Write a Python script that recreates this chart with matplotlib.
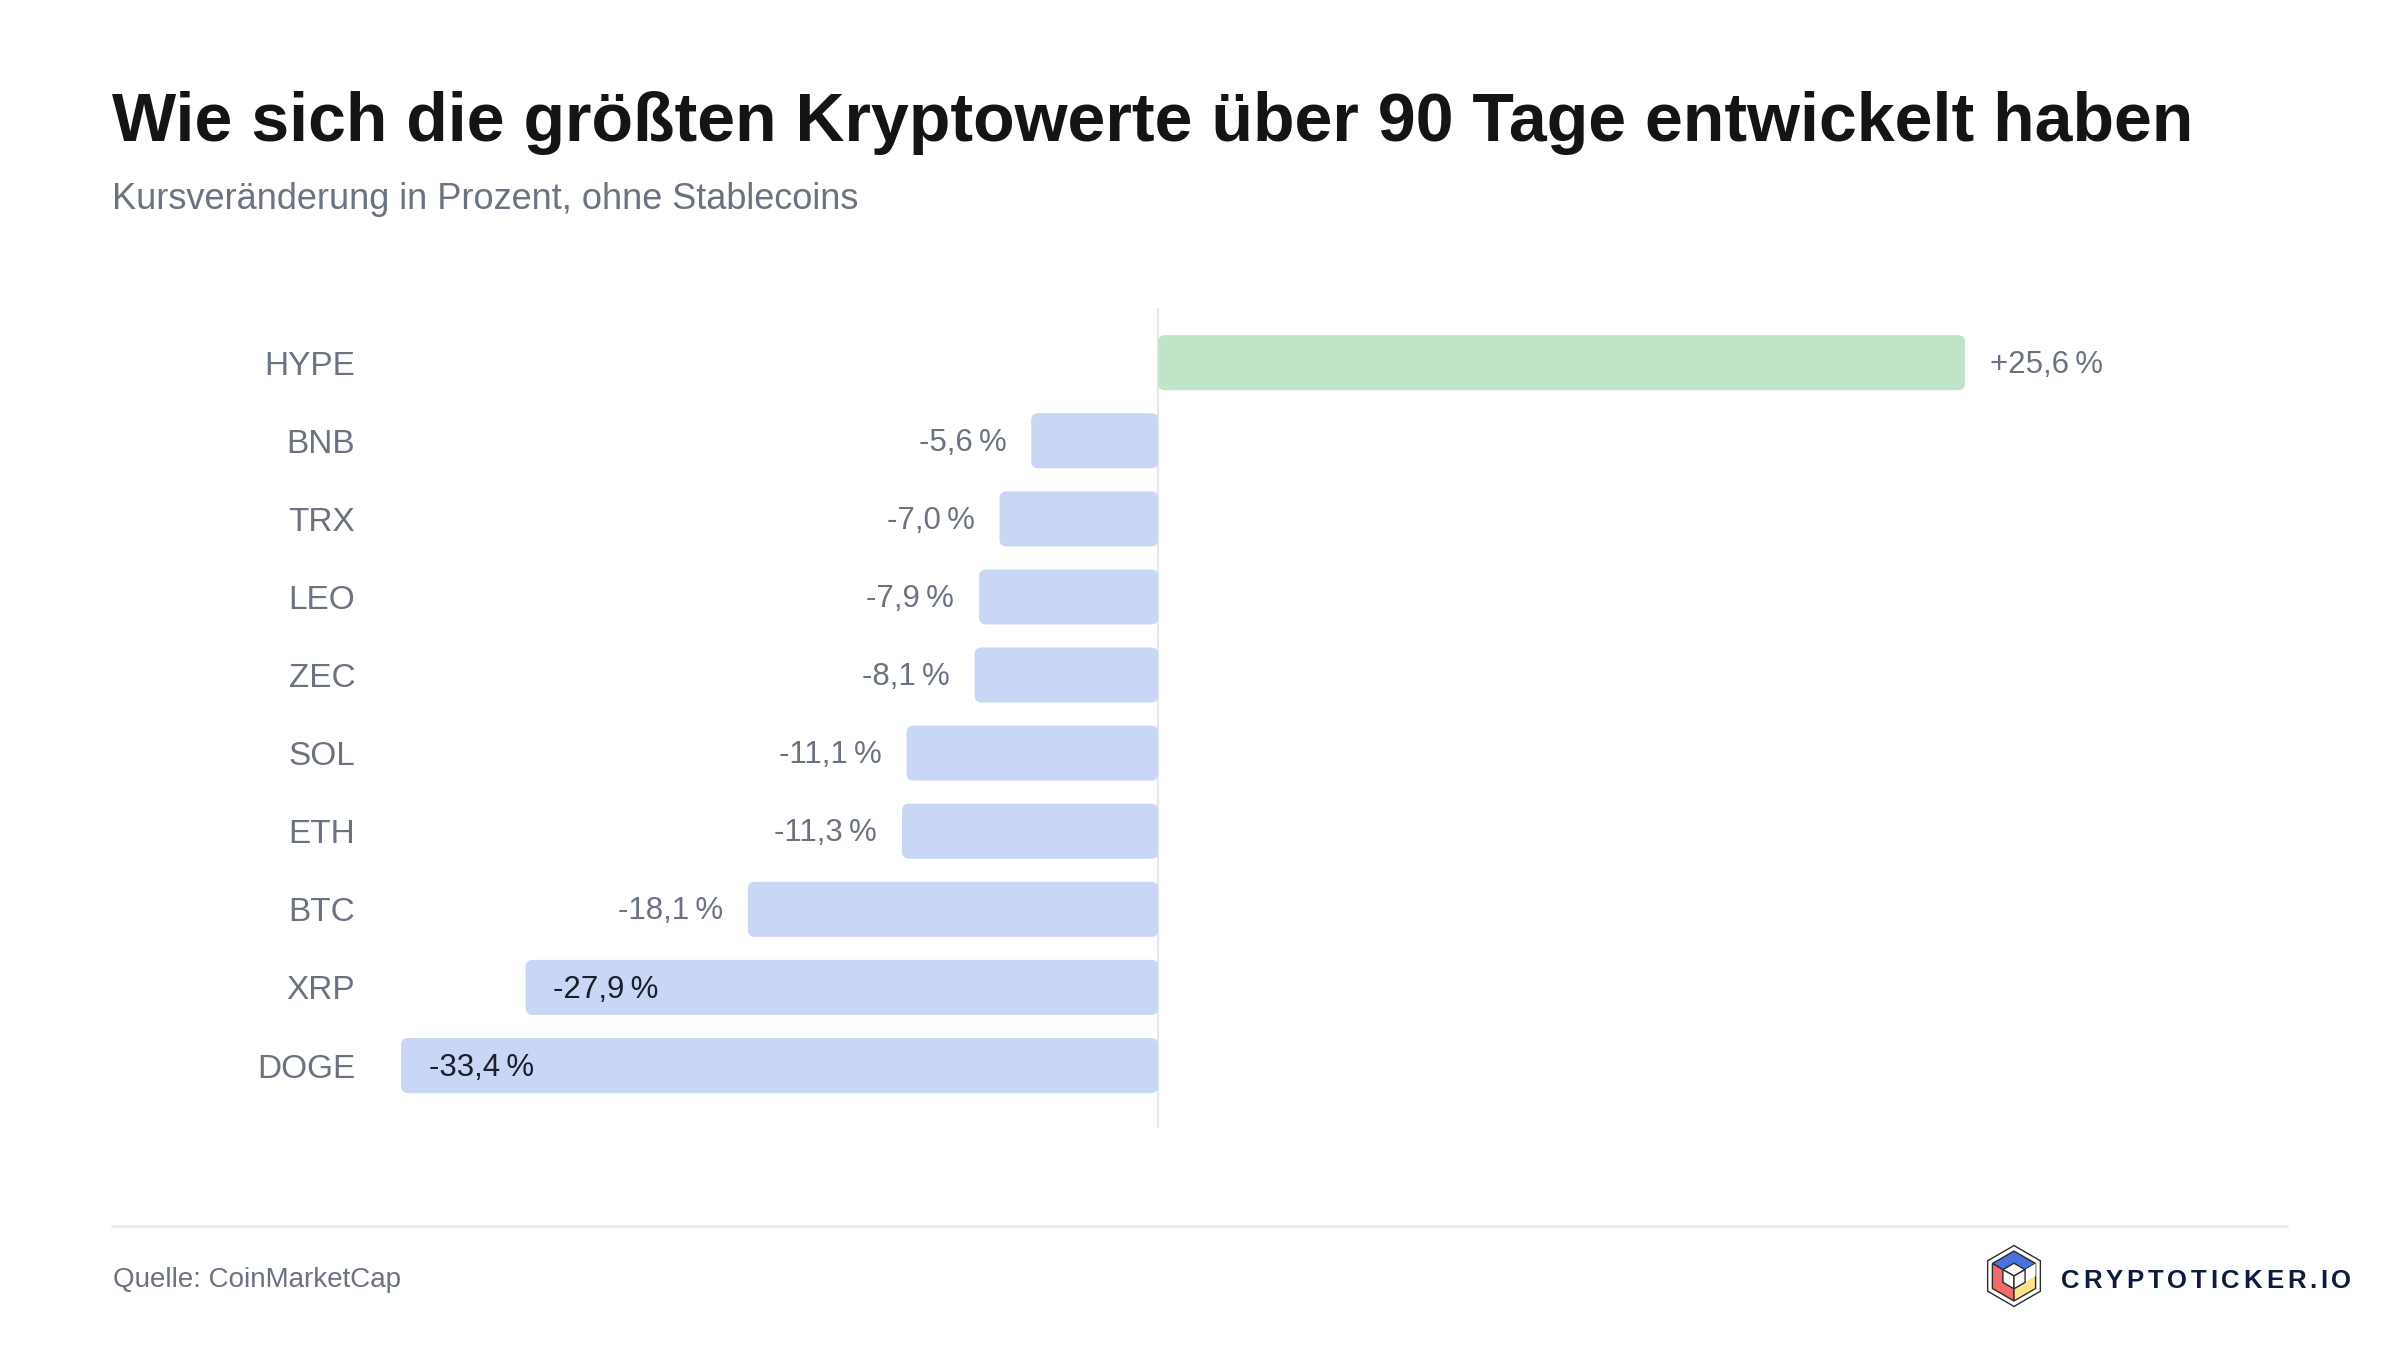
import numpy as np
import matplotlib
matplotlib.use("Agg")
import matplotlib.pyplot as plt
from matplotlib.patches import FancyBboxPatch, Polygon
from matplotlib.lines import Line2D

plt.rcParams['font.family'] = ['Liberation Sans', 'DejaVu Sans']

# data, top to bottom
coins = ["HYPE", "BNB", "TRX", "LEO", "ZEC", "SOL", "ETH", "BTC", "XRP", "DOGE"]
change = [25.6, -5.6, -7.0, -7.9, -8.1, -11.1, -11.3, -18.1, -27.9, -33.4]

TITLE = "Wie sich die größten Kryptowerte über 90 Tage entwickelt haben"
SUBTITLE = "Kursveränderung in Prozent, ohne Stablecoins"
SOURCE = "Quelle: CoinMarketCap"
BRAND = "CRYPTOTICKER.IO"

NEG_COLOR = "#c9d6f5"
POS_COLOR = "#c0e4c8"
GRAY = "#6b7280"
DARK = "#1a1f2b"

# the positive side of the original is drawn on a wider scale
POS_STRETCH = 1.39


def fwd(x):
    x = np.asarray(x, dtype=float)
    return np.where(x > 0, x * POS_STRETCH, x)


def inv(x):
    x = np.asarray(x, dtype=float)
    return np.where(x > 0, x / POS_STRETCH, x)


W, H = 2400, 1350
fig = plt.figure(figsize=(24, 13.5), dpi=100)
fig.patch.set_facecolor("white")

ax_l, ax_r, ax_t, ax_b = 401, 1965, 308, 1128
ax = fig.add_axes([ax_l / W, 1 - ax_b / H, (ax_r - ax_l) / W, (ax_b - ax_t) / H])
ax.set_xscale('function', functions=(fwd, inv))
ax.set_xlim(min(change), max(change))
ax.set_ylim(len(coins) - 1 + 0.8, -0.7)
for s in ax.spines.values():
    s.set_visible(False)
ax.set_xticks([])
ax.set_yticks(range(len(coins)))
ax.set_yticklabels(coins)
ax.tick_params(axis='y', length=0, pad=33, labelsize=24, labelcolor=GRAY)

ax.axvline(0, color="#e6e7ea", lw=1.6, zorder=1)

# pixel sizes of one data unit, for round corners
px_neg = ax.transData.transform((0, 0))[0] - ax.transData.transform((-1, 0))[0]
px_pos = ax.transData.transform((1, 0))[0] - ax.transData.transform((0, 0))[0]
px_y = ax.transData.transform((0, 0))[1] - ax.transData.transform((0, 1))[1]
radius = 7
bar_h = 0.705

for i, v in enumerate(change):
    pxx = px_pos if v > 0 else px_neg
    x0 = min(0, v)
    box = FancyBboxPatch((x0, i - bar_h / 2), abs(v), bar_h,
                         boxstyle=f"round,pad=0,rounding_size={radius / pxx}",
                         mutation_aspect=pxx / px_y,
                         fc=POS_COLOR if v > 0 else NEG_COLOR, ec="none", zorder=2)
    ax.add_patch(box)

    label = f"{v:+.1f}".replace(".", ",") + "\u2009%"
    if v > 0:
        ax.annotate(label, (v, i), xytext=(18, -1.5), textcoords="offset points",
                    ha="left", va="center", fontsize=22.5, color=GRAY)
    elif v < -25:
        ax.annotate(label, (v, i), xytext=(20, -1.5), textcoords="offset points",
                    ha="left", va="center", fontsize=22.5, color=DARK, zorder=3)
    else:
        ax.annotate(label, (v, i), xytext=(-18, -1.5), textcoords="offset points",
                    ha="right", va="center", fontsize=22.5, color=GRAY)

# titles
fig.text(112 / W, 1 - 141 / H, TITLE, fontsize=49, fontweight="bold",
         color="#141414", va="baseline")
fig.text(112 / W, 1 - 209 / H, SUBTITLE, fontsize=26, color=GRAY, va="baseline")

# footer
fig.add_artist(Line2D([112 / W, 2287 / W], [1 - 1226 / H] * 2,
                      transform=fig.transFigure, color="#e8e8e8", lw=1.8))
fig.text(113 / W, 1 - 1287 / H, SOURCE, fontsize=20, color=GRAY, va="baseline")

# brand name with letter spacing
renderer = fig.canvas.get_renderer()
x = 2061
for ch in BRAND:
    t = fig.text(x / W, 1 - 1288 / H, ch, fontsize=18.5, fontweight="bold",
                 color="#0d1b3e", va="baseline")
    x += t.get_window_extent(renderer).width + 3.8

# logo icon
lax = fig.add_axes([1979 / W, 1 - 1311 / H, 70 / W, 70 / H])
lax.set_xlim(-1.15, 1.15)
lax.set_ylim(-1.15, 1.15)
lax.set_aspect("equal")
lax.axis("off")


def hexpts(r, cy=0.0):
    c = np.cos(np.pi / 6)
    return {"T": (0, cy + r), "UL": (-r * c, cy + r / 2), "LL": (-r * c, cy - r / 2),
            "B": (0, cy - r), "LR": (r * c, cy - r / 2), "UR": (r * c, cy + r / 2),
            "C": (0, cy)}


def cube(r, cols, ec="#2b2b2b", lw=1.0):
    p = hexpts(r)
    faces = [("T", "UR", "C", "UL"), ("UL", "C", "B", "LL"), ("C", "UR", "LR", "B")]
    for f, col in zip(faces, cols):
        lax.add_patch(Polygon([p[k] for k in f], closed=True, fc=col, ec=ec, lw=lw))


outer = hexpts(1.0)
lax.add_patch(Polygon([outer[k] for k in ("T", "UR", "LR", "B", "LL", "UL")],
                      closed=True, fc="none", ec="#2b2b2b", lw=1.0))
cube(0.82, ["#4a72df", "#f26a6a", "#fde38a"])
big = hexpts(0.82)
mid_r = ((big["UR"][0] + big["LR"][0]) / 2, (big["UR"][1] + big["LR"][1]) / 2)
mid_c = ((big["C"][0] + big["B"][0]) / 2, (big["C"][1] + big["B"][1]) / 2)
lax.add_patch(Polygon([big["C"], big["UR"], mid_r, mid_c], closed=True,
                      fc="white", ec="none"))
cube(0.42, ["white", "white", "white"])

fig.savefig("out.png", dpi=100, facecolor="white")
